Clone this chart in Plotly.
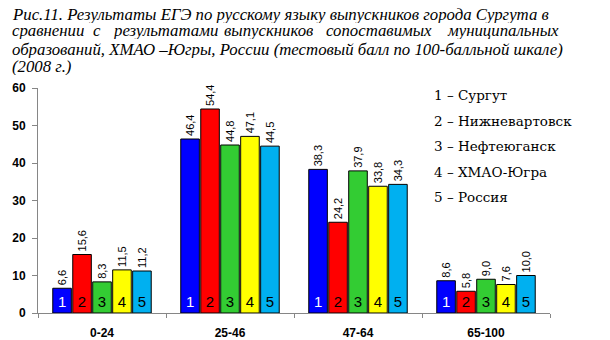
import plotly.graph_objects as go

# ---- data ----
categories = ["0-24", "25-46", "47-64", "65-100"]
series_numbers = ["1", "2", "3", "4", "5"]
series_names = ["Сургут", "Нижневартовск", "Нефтеюганск", "ХМАО-Югра", "Россия"]
surgut = [6.6, 46.4, 38.3, 8.6]
nizhnevartovsk = [15.6, 54.4, 24.2, 5.8]
nefteyugansk = [8.3, 44.8, 37.9, 9.0]
khmao_yugra = [11.5, 47.1, 33.8, 7.6]
russia = [11.2, 44.5, 34.3, 10.0]
y_ticks = [0, 10, 20, 30, 40, 50, 60]

title_lines = [
    "Рис.11. Результаты ЕГЭ по русскому языку выпускников города Сургута в",
    "сравнении с результатами выпускников сопоставимых муниципальных",
    "образований, ХМАО –Югры, России (тестовый балл по 100-балльной шкале)",
    "(2008 г.)",
]

# ---- styling ----
W, H = 610, 340
L, R, T, B = 38, 60, 88, 27
PW, PH = W - L - R, H - T - B

colors = ["#0000FF", "#FF0000", "#33CC33", "#FFFF00", "#00B0F0"]
inside_colors = ["white", "black", "black", "black", "black"]
SANS = "Liberation Sans"
SERIF = "Liberation Serif"

values = [surgut, nizhnevartovsk, nefteyugansk, khmao_yugra, russia]


def px_x(px):
    return (px - L) / PW


def px_y(py):
    return (H - B - py) / PH


fig = go.Figure()

for num, vals, col, tcol in zip(series_numbers, values, colors, inside_colors):
    fig.add_trace(go.Bar(
        x=categories, y=vals, name=num,
        marker=dict(color=col, line=dict(color="black", width=1)),
        text=[num] * len(vals), textposition="inside", insidetextanchor="start",
        textangle=0, constraintext="none",
        insidetextfont=dict(family=SANS, size=15, color=tcol),
        showlegend=False, hoverinfo="skip", xaxis="x", yaxis="y",
    ))

for num, vals in zip(series_numbers, values):
    fig.add_trace(go.Bar(
        x=categories, y=vals, name=num,
        marker=dict(color="rgba(0,0,0,0)", line=dict(width=0)),
        texttemplate="%{y:.1f}", textposition="outside", textangle=-90,
        constraintext="none", cliponaxis=False,
        outsidetextfont=dict(family=SANS, size=11, color="black"),
        showlegend=False, hoverinfo="skip", xaxis="x2", yaxis="y",
    ))

annotations = []
title_font = dict(family=SERIF, size=16.8, style="italic", color="black")

# title: lines 1, 3, 4 whole; line 2 word-positioned (justified with wide gaps)
line_y = [14, 31, 49, 66]
line2_x = [11, 92, 112, 223, 325, 446]
for li, line in enumerate(title_lines):
    if li == 1:
        for w, xx in zip(line.split(" "), line2_x):
            annotations.append(dict(
                text=w, x=px_x(xx), y=px_y(line_y[li]), xref="paper", yref="paper",
                xanchor="left", yanchor="middle", showarrow=False, borderpad=0,
                height=17, valign="middle", font=title_font,
            ))
    else:
        annotations.append(dict(
            text=line, x=px_x(11), y=px_y(line_y[li]), xref="paper", yref="paper",
            xanchor="left", yanchor="middle", showarrow=False, borderpad=0,
            height=17, valign="middle", font=title_font,
        ))

# custom legend
for i, (num, name) in enumerate(zip(series_numbers, series_names)):
    annotations.append(dict(
        text=f"{num} – {name}", x=px_x(433), y=px_y(95 + i * 25.5),
        xref="paper", yref="paper", xanchor="left", yanchor="middle",
        showarrow=False, borderpad=0,
        font=dict(family="DejaVu Serif", size=13.5, color="black"),
    ))

axis_col = "#868686"
fig.update_layout(
    width=W, height=H,
    margin=dict(l=L, r=R, t=T, b=B, pad=0, autoexpand=False),
    paper_bgcolor="white", plot_bgcolor="white",
    barmode="group", bargap=0.22, bargroupgap=0.07,
    separators=", ",
    showlegend=False,
    annotations=annotations,
    xaxis=dict(
        type="category", range=[-0.5, 3.5], showline=True, linecolor=axis_col,
        linewidth=1, ticks="outside", tickson="boundaries", ticklen=4,
        tickcolor=axis_col, showgrid=False, ticklabelstandoff=9,
        automargin=False,
        tickfont=dict(family=SANS, size=12, color="black", weight="bold"),
    ),
    xaxis2=dict(
        type="category", range=[-0.5, 3.5], overlaying="x", anchor="y",
        visible=False, showgrid=False, automargin=False,
    ),
    yaxis=dict(
        range=[0, 60], tickvals=y_ticks, showline=True, linecolor=axis_col,
        linewidth=1, ticks="outside", ticklen=5, tickcolor=axis_col,
        showgrid=False, zeroline=False, ticklabelstandoff=4, automargin=False,
        tickfont=dict(family=SANS, size=12, color="black", weight="bold"),
    ),
)

fig.write_html("out.html")
